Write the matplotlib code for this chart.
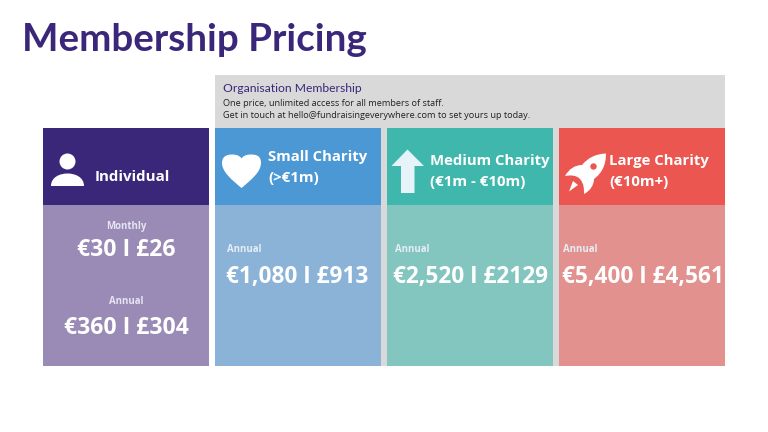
import matplotlib
matplotlib.use("Agg")
import matplotlib.pyplot as plt
from matplotlib.patches import Rectangle, Circle, Polygon, PathPatch
from matplotlib.path import Path

title = "Membership Pricing"
org_title = "Organisation Membership"
org_lines = ["One price, unlimited access for all members of staff.",
             "Get in touch at hello@fundraisingeverywhere.com to set yours up today."]

card_names = ["Small Charity", "Medium Charity", "Large Charity"]
card_ranges = ["(>€1m)", "(€1m - €10m)", "(€10m+)"]
card_prices = ["€1,080 I £913", "€2,520 I £2129", "€5,400 I £4,561"]
card_dark = ["#4c98d4", "#40b7ad", "#ec5650"]
card_light = ["#8ab3d7", "#83c5bf", "#e2918e"]

purple = "#3a277a"
purple_light = "#9a8bb6"
grey = "#d9d9d9"

plt.rcParams['font.family'] = ['Open Sans', 'DejaVu Sans']

fig = plt.figure(figsize=(7.68, 4.32), dpi=100)
ax = fig.add_axes([0, 0, 1, 1])
ax.set_xlim(0, 768)
ax.set_ylim(432, 0)
ax.axis("off")


def box(x0, y0, x1, y1, color):
    ax.add_patch(Rectangle((x0, y0), x1 - x0, y1 - y0, fc=color, ec="none"))


def label(x, y, s, size, weight="bold", color="white", ha="left", **kw):
    ax.text(x, y, s, fontsize=size, fontweight=weight, color=color, ha=ha, va="center", **kw)


# title and grey organisation panel
label(22, 40, title, 27.7, color=purple, family=["Lato", "DejaVu Sans"])
box(215, 75, 725, 366, grey)
label(223, 88, org_title, 8.75, weight="normal", color=purple, family=["Lato", "DejaVu Sans"])
label(223, 103.5, org_lines[0], 6.6, weight="normal", color="#222222")
label(223, 116, org_lines[1], 6.6, weight="normal", color="#222222")

# individual card
box(43, 128, 209, 205, purple)
box(43, 205, 209, 366, purple_light)
label(95, 177, "Individual", 10.8)
label(126, 226, "Monthly", 6.9, color="#e6e6f2", ha="center")
label(126, 249.5, "€30 I £26", 16.6, ha="center")
label(126, 301, "Annual", 6.9, color="#e6e6f2", ha="center")
label(126, 327.5, "€360 I £304", 16.6, ha="center")

# person icon
ax.add_patch(Circle((67.5, 161.5), 8, fc="white", ec="none"))
ax.add_patch(PathPatch(Path(
    [(51, 186), (51, 177), (60, 173.5), (67.5, 173.5), (75, 173.5), (84, 177), (84, 186), (51, 186)],
    [Path.MOVETO, Path.CURVE4, Path.CURVE4, Path.CURVE4, Path.CURVE4, Path.CURVE4, Path.CURVE4, Path.CLOSEPOLY]),
    fc="white", ec="none"))

# charity cards
card_x = [215, 387, 559]
name_x = [268.5, 430, 609]
name_y = [157, 161, 161]
range_y = [178, 182, 182]
annual_x = [227, 395, 563]
price_x = [225.5, 393, 562]
for i in range(3):
    x = card_x[i]
    box(x, 128, x + 166, 205, card_dark[i])
    box(x, 205, x + 166, 366, card_light[i])
    label(name_x[i], name_y[i], card_names[i], 10.7)
    label(name_x[i], range_y[i], card_ranges[i], 10.8)
    label(annual_x[i], 249, "Annual", 6.9, color="#e6eef5")
    label(price_x[i], 277, card_prices[i], 16.3)

# heart icon
ax.add_patch(PathPatch(Path(
    [(241.5, 188), (232, 180), (222, 172), (222, 163), (222, 155), (229, 154.5), (232, 154.5),
     (237, 154.5), (240, 156), (241.5, 158.5), (243, 156), (246, 154.5), (251, 154.5),
     (255, 154.5), (261, 155), (261, 163), (261, 172), (251, 180), (241.5, 188)],
    [Path.MOVETO] + [Path.CURVE4] * 18), fc="white", ec="none"))

# arrow icon
ax.add_patch(Polygon([(407.5, 149.5), (424, 166), (414.5, 166), (414.5, 193), (401, 193), (401, 166), (391.5, 166)],
                     fc="#e6f4fa", ec="none"))

# rocket icon
ax.add_patch(PathPatch(Path(
    [(606, 153.5), (595, 154), (588, 158), (582, 165), (575, 165), (569, 169), (565, 176),
     (571, 175), (576, 175), (580, 179), (584, 184), (584, 188), (584, 194),
     (590, 191), (594, 185), (594, 179), (602, 173), (606, 165), (606, 153.5)],
    [Path.MOVETO] + [Path.CURVE4] * 18), fc="white", ec="none"))
ax.add_patch(Circle((593.5, 166.5), 3.2, fc=card_dark[2], ec="none"))
ax.add_patch(Polygon([(573, 181), (578, 185), (569, 191.5)], fc="white", ec="none", joinstyle="round"))

fig.savefig("out.png", dpi=100)
